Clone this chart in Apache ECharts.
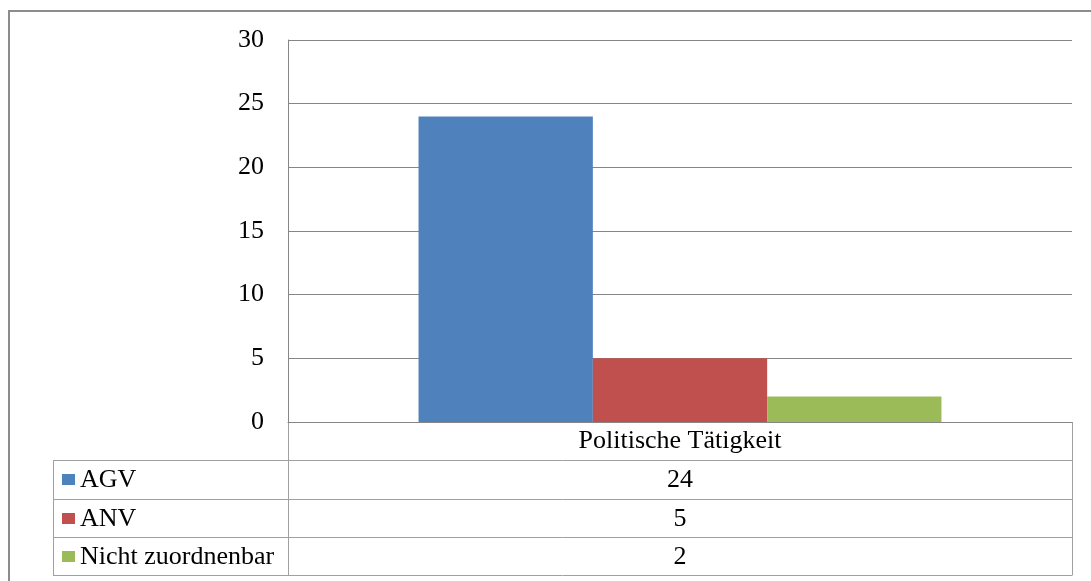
<!DOCTYPE html>
<html><head><meta charset="utf-8">
<script src="https://cdn.jsdelivr.net/npm/echarts@6/dist/echarts.min.js"></script>
<style>html,body{margin:0;padding:0;background:#fff}#c{width:1091px;height:581px}</style>
</head><body><div id="c"></div>
<script>
const categories = ['Politische Tätigkeit'];
const seriesNames = ['AGV', 'ANV', 'Nicht zuordnenbar'];
const agv = [24];
const anv = [5];
const nicht = [2];
const yTicks = {min: 0, max: 30, interval: 5};

const colors = ['#4F81BD', '#C0504D', '#9BBB59'];
const values = [agv, anv, nicht];
const font = '"Liberation Serif","Times New Roman",serif';
const fs = 26;

const G = {left: 288, right: 1072, top: 40, bottom: 422};
const rowH = 38.3;
const tableLeft = 53;
const lineColor = '#A0A0A0';

const chart = echarts.init(document.getElementById('c'), null, {renderer: 'canvas'});

const graphics = [];
graphics.push({type: 'rect', shape: {x: 9, y: 11, width: 1200, height: 700},
  style: {fill: 'none', stroke: '#8C8C8C', lineWidth: 2}, silent: true, z: 10});
for (let i = 1; i <= seriesNames.length + 1; i++) {
  const y = Math.round(G.bottom + rowH * i) + 0.5;
  graphics.push({type: 'line', shape: {x1: tableLeft, y1: y, x2: G.right, y2: y},
    style: {stroke: lineColor, lineWidth: 1}, silent: true});
}
const tableBottom = Math.round(G.bottom + rowH * (seriesNames.length + 1)) + 0.5;
graphics.push({type: 'line', shape: {x1: tableLeft + 0.5, y1: Math.round(G.bottom + rowH) + 0.5, x2: tableLeft + 0.5, y2: tableBottom},
  style: {stroke: lineColor, lineWidth: 1}, silent: true});
graphics.push({type: 'line', shape: {x1: G.left + 0.5, y1: G.bottom, x2: G.left + 0.5, y2: tableBottom},
  style: {stroke: lineColor, lineWidth: 1}, silent: true});
graphics.push({type: 'line', shape: {x1: G.right + 0.5, y1: G.bottom, x2: G.right + 0.5, y2: tableBottom},
  style: {stroke: lineColor, lineWidth: 1}, silent: true});
seriesNames.forEach((name, i) => {
  const cy = G.bottom + rowH * (i + 1.5);
  graphics.push({type: 'rect', shape: {x: 62, y: Math.round(cy - 5), width: 13, height: 11},
    style: {fill: colors[i]}, silent: true});
  graphics.push({type: 'text', x: 80, y: cy + 1,
    style: {text: name, font: fs + 'px ' + font, fill: '#000', verticalAlign: 'middle', align: 'left'}, silent: true});
  graphics.push({type: 'text', x: (G.left + G.right) / 2, y: cy + 1,
    style: {text: String(values[i][0]), font: fs + 'px ' + font, fill: '#000', verticalAlign: 'middle', align: 'center'}, silent: true});
});

chart.setOption({
  animation: false,
  grid: {left: G.left, right: 1091 - G.right, top: G.top, bottom: 581 - G.bottom, containLabel: false},
  xAxis: {
    type: 'category', data: categories,
    axisLine: {show: true, lineStyle: {color: '#868686', width: 1}},
    axisTick: {show: false},
    axisLabel: {show: true, fontFamily: font, fontSize: fs, color: '#000', margin: 6}
  },
  yAxis: {
    type: 'value', min: yTicks.min, max: yTicks.max, interval: yTicks.interval,
    axisLine: {show: true, lineStyle: {color: '#868686', width: 1}},
    axisTick: {show: false},
    axisLabel: {fontFamily: font, fontSize: fs, color: '#000', margin: 24},
    splitLine: {lineStyle: {color: '#868686', width: 1}}
  },
  series: seriesNames.map((n, i) => ({
    name: n, type: 'bar', data: values[i],
    barGap: '0%', barCategoryGap: '33.3%',
    itemStyle: {color: colors[i]}
  })),
  graphic: graphics
});
</script>
</body></html>
